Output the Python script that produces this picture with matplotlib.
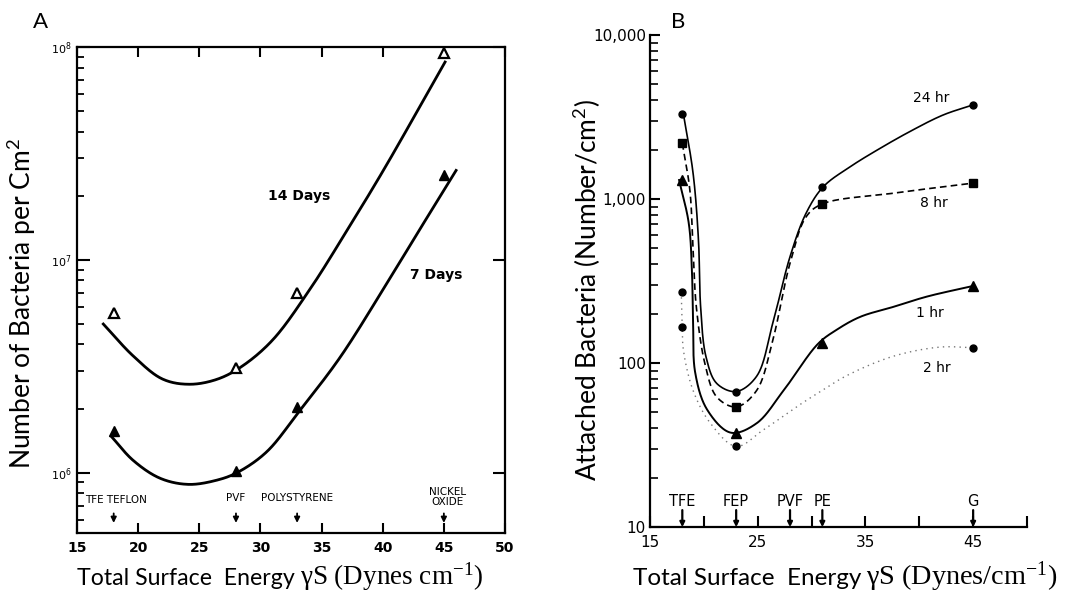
import numpy as np
import matplotlib
matplotlib.use("Agg")
from matplotlib import pyplot as plt
from matplotlib.ticker import FixedLocator, NullFormatter, LogLocator

# ---- panel A data (surface energy vs bacteria per cm2) ----
sfe_a = [18, 28, 33, 45]
days14_pts = [5.6e6, 3.1e6, 7.0e6, 9.4e7]
days7_pts = [1.57e6, 1.02e6, 2.03e6, 2.5e7]

days14_curve_x = [17.15, 19.6, 22.0, 24.2, 26.5, 28.5, 31.0, 34.0, 37.0, 40.0, 43.0, 45.1]
days14_curve_y = [4.99e6, 3.53e6, 2.75e6, 2.6e6, 2.75e6, 3.16e6, 4.2e6, 7.2e6, 1.35e7, 2.6e7, 5.2e7, 8.5e7]
days7_curve_x = [17.8, 19.6, 21.8, 24.1, 26.4, 28.1, 30.5, 33.2, 36.5, 40.0, 43.0, 46.0]
days7_curve_y = [1.48e6, 1.14e6, 9.4e5, 8.8e5, 9.2e5, 1.0e6, 1.25e6, 1.95e6, 3.47e6, 7.2e6, 1.38e7, 2.63e7]

materials_a = ["TFE TEFLON", "PVF", "POLYSTYRENE", "NICKEL\nOXIDE"]
materials_a_x = [18, 28, 33, 45]

# ---- panel B data (attached bacteria per cm2) ----
sfe_b = [18, 23, 31, 45]
hr24_pts = [3300, 67, 1180, 3750]
hr8_pts = [2190, 54, 930, 1250]
hr1_pts = [1300, 37.5, 132, 295]
hr2_x = [18, 18, 23, 45]
hr2_pts = [272, 166, 31, 124]

hr24_curve_x = [18.1, 19.0, 19.5, 19.7, 20.2, 21.2, 23.0, 24.9, 26.4, 28.0, 29.5, 31.1, 33.6, 36.1, 39.1, 42.2, 45.0]
hr24_curve_y = [3300, 1436, 562, 220, 109, 75, 67, 83, 175, 445, 822, 1190, 1575, 1990, 2573, 3250, 3750]
hr8_curve_x = [18.0, 18.7, 19.0, 19.3, 20.1, 21.2, 23.0, 24.9, 26.4, 28.0, 29.5, 31.0, 37.6, 45.0]
hr8_curve_y = [2190, 1135, 489, 220, 99, 62, 54, 68, 138, 406, 780, 933, 1085, 1250]
hr1_curve_x = [17.7, 18.6, 18.9, 19.0, 19.2, 20.3, 22.5, 24.9, 27.4, 30.6, 32.3, 34.5, 37.6, 40.7, 45.0]
hr1_curve_y = [1306, 711, 352, 175, 87, 52, 37.6, 42.9, 68, 131, 159, 191, 220, 254, 295]
hr2_curve_x = [17.9, 18.0, 18.1, 19.0, 20.6, 23.0, 25.5, 28.6, 30.5, 33.3, 37.6, 41.9, 45.0]
hr2_curve_y = [272, 166, 120, 68, 43, 31, 39, 54, 65, 84, 110, 125, 124]

materials_b = ["TFE", "FEP", "PVF", "PE", "G"]
materials_b_x = [18, 23, 28, 31, 45]


def smooth(xs, ys, kx, ky, n=30, alpha=0.5):
    # centripetal catmull-rom through the read points, done in pixel-like (x, log y) units
    P = np.column_stack([np.asarray(xs, float) * kx, np.log10(ys) * ky])
    P = np.vstack([2 * P[0] - P[1], P, 2 * P[-1] - P[-2]])
    out = []
    for i in range(len(P) - 3):
        p0, p1, p2, p3 = P[i:i + 4]
        t0 = 0.0
        t1 = t0 + np.linalg.norm(p1 - p0) ** alpha
        t2 = t1 + np.linalg.norm(p2 - p1) ** alpha
        t3 = t2 + np.linalg.norm(p3 - p2) ** alpha
        t = np.linspace(t1, t2, n, endpoint=False)[:, None]
        a1 = (t1 - t) / (t1 - t0) * p0 + (t - t0) / (t1 - t0) * p1
        a2 = (t2 - t) / (t2 - t1) * p1 + (t - t1) / (t2 - t1) * p2
        a3 = (t3 - t) / (t3 - t2) * p2 + (t - t2) / (t3 - t2) * p3
        b1 = (t2 - t) / (t2 - t0) * a1 + (t - t0) / (t2 - t0) * a2
        b2 = (t3 - t) / (t3 - t1) * a2 + (t - t1) / (t3 - t1) * a3
        out.append((t2 - t) / (t2 - t1) * b1 + (t - t1) / (t2 - t1) * b2)
    out.append(P[-2][None, :])
    out = np.vstack(out)
    return out[:, 0] / kx, 10 ** (out[:, 1] / ky)


fig = plt.figure(figsize=(10.68, 5.93), dpi=100)
sans = "Lato"
serif = "Liberation Serif"


def xlabel(x0, y0, left, right, s1, s2):
    # sans part then serif part right after it
    t = fig.text(x0 / 1068, y0 / 593, left, fontsize=s1, family=sans, ha="left", va="baseline")
    r = fig.canvas.get_renderer()
    bb = t.get_window_extent(r)
    fig.text((bb.x1 + 5) / 1068, y0 / 593, right, fontsize=s2, family=serif, ha="left", va="baseline")


# ================= panel A =================
axA = fig.add_axes([77 / 1068, 60 / 593, 428 / 1068, 486 / 593])
axA.set_yscale("log")
axA.set_xlim(15, 50)
axA.set_ylim(5.2e5, 1e8)
for s in axA.spines.values():
    s.set_linewidth(1.6)

kxA, kyA = 12.23, 211
cx, cy = smooth(days14_curve_x, days14_curve_y, kxA, kyA)
axA.plot(cx, cy, color="black", lw=2.0)
cx, cy = smooth(days7_curve_x, days7_curve_y, kxA, kyA)
axA.plot(cx, cy, color="black", lw=2.0)
axA.plot(sfe_a, days14_pts, ls="none", marker="^", ms=7, mfc="white", mec="black", mew=1.6)
axA.plot(sfe_a, days7_pts, ls="none", marker="^", ms=7, color="black")

axA.set_xticks(range(15, 51, 5))
axA.set_xticklabels([str(v) for v in range(15, 51, 5)], fontsize=10, fontweight="bold")
axA.yaxis.set_major_locator(FixedLocator([1e6, 1e7, 1e8]))
axA.set_yticklabels([r"$\mathregular{10^{6}}$", r"$\mathregular{10^{7}}$", r"$\mathregular{10^{8}}$"], fontsize=8)
axA.yaxis.set_minor_locator(LogLocator(base=10, subs=np.arange(2, 10)))
axA.yaxis.set_minor_formatter(NullFormatter())
axA.tick_params(axis="x", direction="in", length=7, width=1.5, top=True, pad=6)
axA.tick_params(axis="y", which="major", direction="in", length=9, width=1.5, right=True, pad=4)
axA.tick_params(axis="y", which="minor", direction="in", length=5, width=1.3, right=False)

axA.text(33.2, 2.0e7, "14 Days", fontsize=10, fontweight="bold", ha="center", va="center")
axA.text(44.4, 8.5e6, "7 Days", fontsize=10, fontweight="bold", ha="center", va="center")

tA = axA.get_xaxis_transform()
axA.text(15.7, 0.068, materials_a[0], transform=tA, fontsize=7.5, ha="left", va="center")
axA.text(28, 0.072, materials_a[1], transform=tA, fontsize=7.5, ha="center", va="center")
axA.text(33, 0.072, materials_a[2], transform=tA, fontsize=7.5, ha="center", va="center")
axA.text(45.3, 0.074, materials_a[3], transform=tA, fontsize=7.5, ha="center", va="center",
         linespacing=0.9)
for xv in materials_a_x:
    axA.annotate("", xy=(xv, 0.015), xytext=(xv, 0.046), xycoords=tA, textcoords=tA,
                 arrowprops=dict(arrowstyle="-|>", color="black", lw=1.3, mutation_scale=8))

fig.text(22 / 1068, 1 - 304 / 593, "Number of Bacteria per Cm$\\mathregular{^2}$", rotation=90,
         fontsize=19, family=sans, ha="center", va="center")
fig.text(33 / 1068, 1 - 22 / 593, "A", fontsize=16, family=sans, ha="left", va="center")
xlabel(77, 8, "Total Surface  Energy", "γS (Dynes cm$\\mathregular{^{-1}}$)", 16.7, 19.5)

# ================= panel B =================
axB = fig.add_axes([650 / 1068, 66 / 593, 377 / 1068, 492 / 593])
axB.set_yscale("log")
axB.set_xlim(15, 50)
axB.set_ylim(10, 10000)
axB.spines["top"].set_visible(False)
axB.spines["right"].set_visible(False)
for s in ["left", "bottom"]:
    axB.spines[s].set_linewidth(1.6)

kxB, kyB = 10.77, 164
cx, cy = smooth(hr24_curve_x, hr24_curve_y, kxB, kyB)
axB.plot(cx, cy, color="black", lw=1.2)
cx, cy = smooth(hr8_curve_x, hr8_curve_y, kxB, kyB)
axB.plot(cx, cy, color="black", lw=1.2, ls=(0, (4, 2.5)))
cx, cy = smooth(hr1_curve_x, hr1_curve_y, kxB, kyB)
axB.plot(cx, cy, color="black", lw=1.4)
cx, cy = smooth(hr2_curve_x, hr2_curve_y, kxB, kyB)
axB.plot(cx, cy, color="#777777", lw=1.0, ls=(0, (1, 3)))

axB.plot(sfe_b, hr24_pts, ls="none", marker="o", ms=5, color="black")
axB.plot(sfe_b, hr8_pts, ls="none", marker="s", ms=6, color="black")
axB.plot(sfe_b, hr1_pts, ls="none", marker="^", ms=7, color="black")
axB.plot(hr2_x, hr2_pts, ls="none", marker="o", ms=5, color="black")

axB.set_xticks([15, 25, 35, 45])
axB.set_xticklabels(["15", "25", "35", "45"], fontsize=11)
axB.set_xticks([20, 30, 40, 50], minor=True)
axB.yaxis.set_major_locator(FixedLocator([10, 100, 1000, 10000]))
axB.set_yticklabels(["10", "100", "1,000", "10,000"], fontsize=11)
axB.yaxis.set_minor_locator(LogLocator(base=10, subs=np.arange(2, 10)))
axB.yaxis.set_minor_formatter(NullFormatter())
axB.tick_params(axis="x", which="both", direction="in", length=8, width=1.5, pad=6)
axB.tick_params(axis="y", which="major", direction="in", length=7, width=1.5, pad=3)
axB.tick_params(axis="y", which="minor", direction="in", length=6, width=1.2)

axB.text(41.1, 4130, "24 hr", fontsize=10, ha="center", va="center")
axB.text(41.4, 940, "8 hr", fontsize=10, ha="center", va="center")
axB.text(41.0, 202, "1 hr", fontsize=10, ha="center", va="center")
axB.text(41.6, 93, "2 hr", fontsize=10, ha="center", va="center")

tB = axB.get_xaxis_transform()
for name, xv in zip(materials_b, materials_b_x):
    axB.text(xv, 0.052, name, transform=tB, fontsize=10.5, ha="center", va="center")
    axB.annotate("", xy=(xv, -0.006), xytext=(xv, 0.04), xycoords=tB, textcoords=tB,
                 arrowprops=dict(arrowstyle="-|>", color="black", lw=1.6, mutation_scale=7))

fig.text(587 / 1068, 1 - 290 / 593, "Attached Bacteria (Number/cm$\\mathregular{^2}$)", rotation=90,
         fontsize=19, family=sans, ha="center", va="center")
fig.text(671 / 1068, 1 - 22 / 593, "B", fontsize=16, family=sans, ha="left", va="center")
xlabel(633, 8, "Total Surface  Energy", "γS (Dynes/cm$\\mathregular{^{-1}}$)", 17.5, 20.3)

fig.savefig("out.png", dpi=100)
